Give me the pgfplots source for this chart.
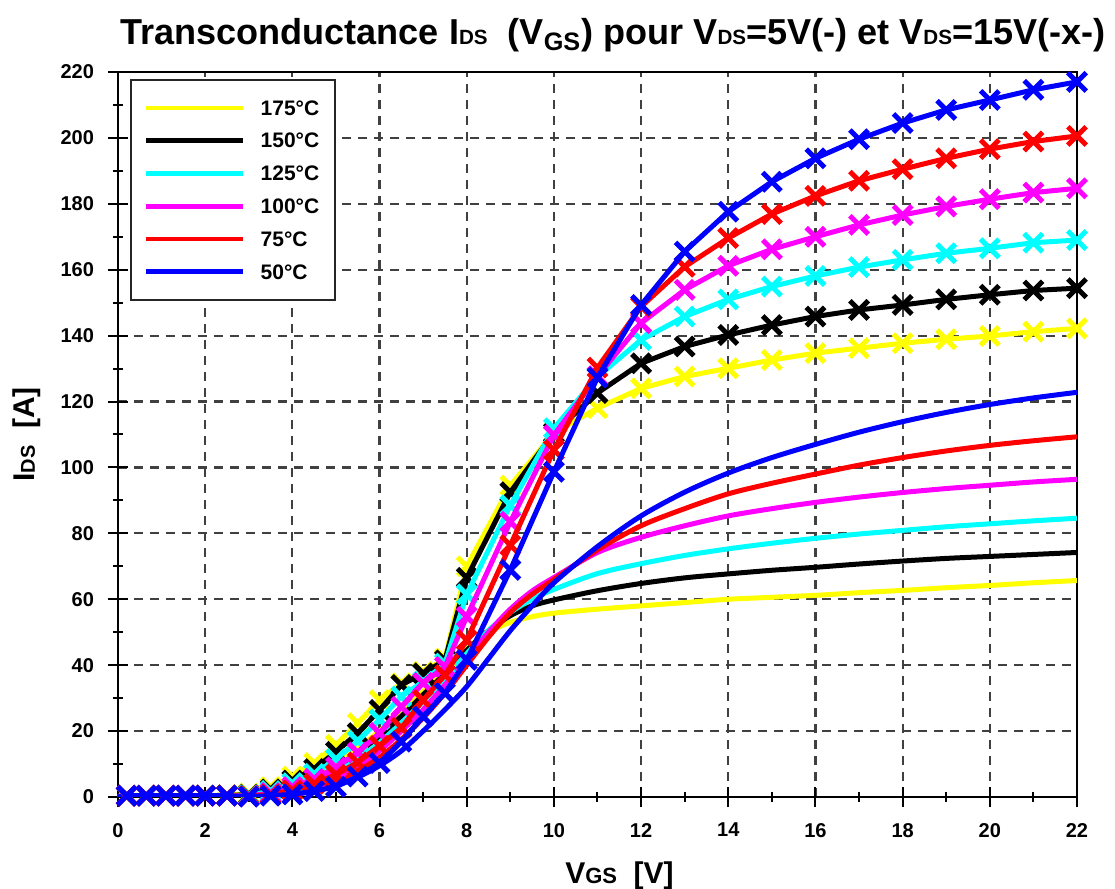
\documentclass[border=0pt]{standalone}
\usepackage{fontspec}
\setmainfont{Liberation Sans}
\usepackage{pgfplots}
\pgfplotsset{compat=1.18}
\definecolor{cY}{RGB}{255,255,0}
\definecolor{cK}{RGB}{0,0,0}
\definecolor{cC}{RGB}{0,255,255}
\definecolor{cM}{RGB}{255,0,255}
\definecolor{cR}{RGB}{255,0,0}
\definecolor{cB}{RGB}{0,0,255}
\newcommand{\sm}[1]{{\fontsize{10}{12}\selectfont #1}}
\begin{document}
\begin{tikzpicture}
\begin{axis}[
  scale only axis, width=479.5pt, height=362.5pt,
  at={(0,0)}, anchor=south west,
  xmin=0, xmax=22, ymin=0, ymax=220,
  xtick={0,2,...,22}, ytick={0,20,...,220},
  minor x tick num=1, minor y tick num=1,
  tick pos=left, tick align=center,
  major tick length=10pt, minor tick length=5pt,
  every tick/.style={black, line width=1pt},
  grid=major,
  major grid style={dash pattern=on 4.5pt off 3.5pt, line width=1.1pt, color=black!75},
  axis line style={line width=1.3pt},
  ticklabel style={font=\bfseries\fontsize{10}{12}\selectfont},
  yticklabel style={xshift=-3.5pt},
  xticklabel style={yshift=-4.5pt},
  /pgf/number format/assume math mode=true,
  clip mode=individual,
  every axis y label/.style={at={(axis description cs:0,0.5)}, xshift=-41.5pt, rotate=90, anchor=base},
  every axis x label/.style={at={(axis description cs:0.5,0)}, xshift=11pt, yshift=-43pt, anchor=base},
  ylabel={\bfseries\fontsize{15}{18}\selectfont I{\fontsize{10}{12}\selectfont DS}\ \ [A]},
  xlabel={\bfseries\fontsize{15}{18}\selectfont V{\fontsize{11}{13}\selectfont GS}\ \ [V]},
  legend style={at={(0,1)}, anchor=north west, xshift=6pt, yshift=-3.5pt,
    draw=black!85, line width=0.9pt, fill=white,
    font=\bfseries\fontsize{10.5}{12}\selectfont,
    inner xsep=6.5pt, inner ysep=8.5pt, row sep=5.4pt, column sep=6pt,
    nodes={inner sep=1.5pt, text height=7.6pt, text depth=0.4pt}},
  legend cell align=left,
  legend image code/.code={\draw[#1, line width=2.4pt] (0pt,0pt) -- (48.5pt,0pt);},
  every axis plot/.append style={line width=2.5pt},
]
% ---------- VDS = 5 V (smooth, no markers) ----------
\addplot[cY, smooth, tension=0.5] coordinates {(0,0.2)(1,0.2)(2,0.2)(3,0.5)(3.5,1.5)(4,3.5)(4.5,6.5)(5,10.5)(5.5,15)(6,20)(6.5,26)(7,32)(7.5,38.5)(8,45)(8.5,50)(9,53)(9.5,54.7)(10,55.8)(11,57)(12,58)(13,59)(14,60)(15,60.6)(16,61.2)(17,62)(18,62.7)(19,63.5)(20,64.2)(21,65)(22,65.7)};
\addlegendentry{175°C}
\addplot[cK, smooth, tension=0.5] coordinates {(0,0.2)(1,0.2)(2,0.2)(3,0.3)(3.5,1.2)(4,3)(4.5,5.5)(5,9)(5.5,13.5)(6,18.5)(6.5,24.5)(7,31)(7.5,37.5)(8,44.5)(8.5,50.5)(9,55)(9.5,58)(10,59.8)(11,62.6)(12,64.8)(13,66.5)(14,67.7)(15,68.8)(16,69.7)(17,70.7)(18,71.6)(19,72.4)(20,73)(21,73.6)(22,74.2)};
\addlegendentry{150°C}
\addplot[cC, smooth, tension=0.5] coordinates {(0,0.2)(1,0.2)(2,0.2)(3,0.2)(3.5,0.9)(4,2.3)(4.5,4.5)(5,7.5)(5.5,11.5)(6,16.5)(6.5,22.5)(7,29)(7.5,36)(8,43.5)(8.5,50.5)(9,56)(9.5,60)(10,63)(11,67.8)(12,70.8)(13,73.3)(14,75.3)(15,77)(16,78.5)(17,79.8)(18,80.9)(19,82)(20,82.9)(21,83.8)(22,84.6)};
\addlegendentry{125°C}
\addplot[cM, smooth, tension=0.5] coordinates {(0,0.2)(1,0.2)(2,0.2)(3,0.2)(3.5,0.6)(4,1.7)(4.5,3.5)(5,6)(5.5,9.5)(6,14)(6.5,20)(7,26.5)(7.5,34)(8,42)(8.5,50)(9,57)(9.5,62.5)(10,66.6)(11,74.2)(12,78.8)(13,82.3)(14,85.3)(15,87.5)(16,89.4)(17,91)(18,92.4)(19,93.6)(20,94.6)(21,95.6)(22,96.4)};
\addlegendentry{100°C}
\addplot[cR, smooth, tension=0.5] coordinates {(0,0.2)(1,0.2)(2,0.2)(3,0.2)(3.5,0.4)(4,1.2)(4.5,2.6)(5,4.8)(5.5,8)(6,12)(6.5,17.5)(7,24)(7.5,31.5)(8,40)(8.5,48.5)(9,56)(9.5,61.5)(10,66)(11,75)(12,82.3)(13,87.5)(14,92)(15,95.2)(16,98)(17,100.7)(18,103)(19,105)(20,106.7)(21,108.1)(22,109.3)};
\addlegendentry{75°C}
\addplot[cB, smooth, tension=0.5] coordinates {(0,0.2)(1,0.2)(2,0.2)(3,0.2)(3.5,0.3)(4,0.7)(4.5,1.8)(5,3.5)(5.5,6)(6,9.5)(6.5,14)(7,20)(7.5,26.5)(8,33.5)(8.5,42)(9,50.5)(9.5,58)(10,65)(11,76)(12,85.3)(13,92.5)(14,98.3)(15,103)(16,107)(17,110.7)(18,113.9)(19,116.7)(20,119.1)(21,121.1)(22,122.8)};
\addlegendentry{50°C}
% ---------- VDS = 15 V (markers x) ----------
\pgfplotsset{every axis plot/.append style={mark=x, mark size=6.5pt, mark options={solid, line width=2.5pt}}}
\addplot[cY, forget plot] coordinates {(0.2,0.4)(0.65,0.4)(1.1,0.4)(1.55,0.4)(2,0.4)(2.5,0.6)(3,1)(3.5,3)(4,6.2)(4.5,10.3)(5,15.8)(5.5,22.4)(6,29.4)(6.5,34.5)(7,38)(7.5,42)(8,70)(9,94.5)(10,110.5)(11,118)(12,124)(13,127.6)(14,130.1)(15,132.6)(16,134.7)(17,136.2)(18,137.7)(19,138.9)(20,139.9)(21,141.2)(22,142.2)};
\addplot[cK, forget plot] coordinates {(0.2,0.4)(0.65,0.4)(1.1,0.4)(1.55,0.4)(2,0.4)(2.5,0.5)(3,0.7)(3.5,2.3)(4,5)(4.5,8.5)(5,13.7)(5.5,19.4)(6,26.4)(6.5,34)(7,37.5)(7.5,41.5)(8,66.5)(9,92.5)(10,110.5)(11,122.6)(12,131.6)(13,136.7)(14,140.2)(15,143.2)(16,145.8)(17,147.8)(18,149.3)(19,151)(20,152.4)(21,153.7)(22,154.4)};
\addplot[cC, forget plot] coordinates {(0.2,0.4)(0.65,0.4)(1.1,0.4)(1.55,0.4)(2,0.4)(2.5,0.4)(3,0.5)(3.5,1.8)(4,4.2)(4.5,7)(5,11.5)(5.5,17)(6,23.5)(6.5,30.5)(7,35)(7.5,40.5)(8,61.5)(9,88.5)(10,111.9)(11,127.5)(12,138.7)(13,145.8)(14,151)(15,154.9)(16,158.1)(17,160.8)(18,163)(19,165)(20,166.5)(21,168.2)(22,169)};
\addplot[cM, forget plot] coordinates {(0.2,0.4)(0.65,0.4)(1.1,0.4)(1.55,0.4)(2,0.4)(2.5,0.4)(3,0.3)(3.5,1.2)(4,3)(4.5,5.5)(5,9)(5.5,13.5)(6,19.4)(6.5,27.4)(7,34.6)(7.5,39.5)(8,54.7)(9,83.5)(10,109.8)(11,127.7)(12,143.8)(13,153.9)(14,161.2)(15,166.2)(16,170)(17,173.6)(18,176.6)(19,179.2)(20,181.4)(21,183.4)(22,184.7)};
\addplot[cR, forget plot] coordinates {(0.2,0.4)(0.65,0.4)(1.1,0.4)(1.55,0.4)(2,0.4)(2.5,0.4)(3,0.2)(3.5,0.8)(4,2)(4.5,4)(5,6.8)(5.5,10.5)(6,15.5)(6.5,21)(7,29.4)(7.5,37)(8,47.6)(9,76.4)(10,105.3)(11,130.3)(12,148.8)(13,160.9)(14,169.6)(15,176.9)(16,182.4)(17,187)(18,190.5)(19,193.8)(20,196.6)(21,198.9)(22,200.6)};
\addplot[cB, forget plot] coordinates {(0.2,0.4)(0.65,0.4)(1.1,0.4)(1.55,0.4)(2,0.4)(2.5,0.4)(3,0.1)(3.5,0.4)(4,0.8)(4.5,1.8)(5,3.1)(5.5,6.2)(6,10.3)(6.5,16.8)(7,24.4)(7.5,31.5)(8,41.6)(9,68.9)(10,98.7)(11,127.3)(12,149.3)(13,165.5)(14,177.6)(15,186.7)(16,193.8)(17,199.6)(18,204.5)(19,208.5)(20,211.5)(21,214.6)(22,217)};
\end{axis}
\node[anchor=base west, inner sep=0pt] at (1pt,376pt) {\resizebox{492.5pt}{!}{\bfseries\fontsize{17.5}{20}\selectfont Transconductance I\sm{DS}\ \ (V\textsubscript{GS}) pour V\sm{DS}=5V(-) et V\sm{DS}=15V(-x-)}};
\pgfresetboundingbox
\path[use as bounding box] (-59pt,-46pt) rectangle (498.5pt,398.5pt);
\end{tikzpicture}
\end{document}
